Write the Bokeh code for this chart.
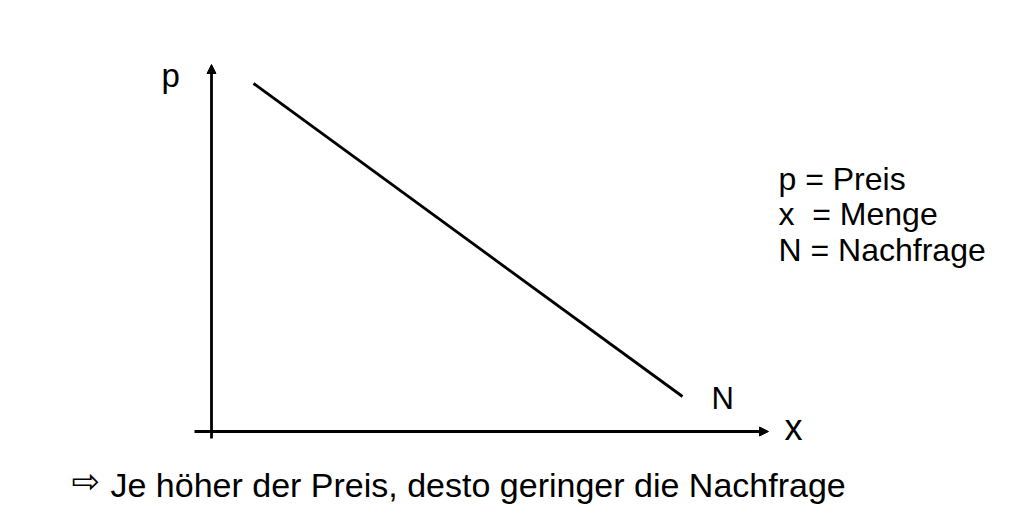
from bokeh.plotting import figure
from bokeh.models import Range1d, Arrow, NormalHead
from bokeh.core.properties import value
from bokeh.embed import file_html
from bokeh.resources import INLINE

# ---- data (chart units: origin where the axes cross) ----
demand_x = [0.84, 9.42]
demand_p = [6.96, 0.70]

axis_x_from, axis_x_to = -0.34, 11.14
axis_p_from, axis_p_to = -0.14, 7.34

legend_lines = ["p = Preis", "x\u00a0 = Menge", "N = Nachfrage"]
legend_p = [5.06, 4.35, 3.64]
legend_x = 11.34

p_label = "p"
x_label = "x"
curve_label = "N"
caption = "Je höher der Preis, desto geringer die Nachfrage"
caption_arrow = "\u21e8"

FONT = "Liberation Sans"

p = figure(width=1013, height=514, output_backend="svg", toolbar_location=None,
           x_range=Range1d(-4.22, 16.04), y_range=Range1d(-1.66, 8.62),
           min_border=0, min_border_left=0, min_border_right=0,
           min_border_top=0, min_border_bottom=0, outline_line_color=None)
p.xaxis.visible = False
p.yaxis.visible = False
p.grid.visible = False

# axes with arrows
p.add_layout(Arrow(x_start=0, y_start=axis_p_from, x_end=0, y_end=axis_p_to,
                   line_width=2.8, line_color="black",
                   end=NormalHead(size=9, fill_color="black", line_color="black", line_width=1)))
p.add_layout(Arrow(x_start=axis_x_from, y_start=0, x_end=axis_x_to, y_end=0,
                   line_width=2.8, line_color="black",
                   end=NormalHead(size=9, fill_color="black", line_color="black", line_width=1)))

# demand curve
p.line(demand_x, demand_p, line_width=2.8, line_color="black")

# labels
p.text(x=[-1.0], y=[7.12], text=[p_label], text_font=value(FONT), text_font_size="33px",
       text_align="left", text_baseline="alphabetic", text_color="black")
p.text(x=[11.46], y=[0.08], text=[x_label], text_font=value(FONT), text_font_size="36px",
       text_align="left", text_baseline="alphabetic", text_color="black")
p.text(x=[10.0], y=[0.66], text=[curve_label], text_font=value(FONT), text_font_size="31px",
       text_align="left", text_baseline="alphabetic", text_color="black")

p.text(x=[legend_x] * len(legend_lines), y=legend_p, text=legend_lines,
       text_font=value(FONT), text_font_size="32px",
       text_align="left", text_baseline="alphabetic", text_color="black")

p.text(x=[-2.80], y=[-0.99], text=[caption_arrow], text_font=value("DejaVu Sans"),
       text_font_size="34px", text_align="left", text_baseline="alphabetic", text_color="black")
p.text(x=[-2.02], y=[-1.06], text=[caption], text_font=value(FONT), text_font_size="34px",
       text_align="left", text_baseline="alphabetic", text_color="black")

open("out.html", "w").write(file_html(p, INLINE))
